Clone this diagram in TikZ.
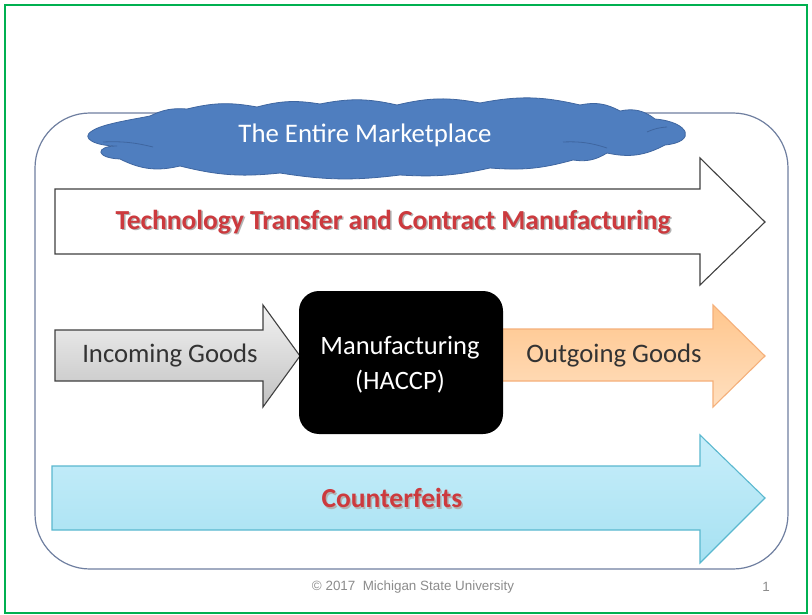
\documentclass[tikz,border=0pt]{standalone}
\usepackage{fontspec}
\setmainfont{Carlito}
\newfontfamily\footfont{Liberation Sans}
\definecolor{greenborder}{HTML}{00B050}
\definecolor{frameblue}{HTML}{6F7FA0}
\definecolor{cloudblue}{HTML}{4F7EBF}
\definecolor{cloudedge}{HTML}{3F66A0}
\definecolor{redtext}{HTML}{CC3A3E}
\definecolor{darkline}{HTML}{404040}
\definecolor{orangeedge}{HTML}{F5B07A}
\definecolor{cyanedge}{HTML}{5AB8CF}
\definecolor{cyantop}{HTML}{C8EEFA}
\definecolor{cyanbot}{HTML}{A6E1F2}
\tikzset{
  bigarrow/.style={line width=1.1pt, line join=miter},
  redlabel/.style={font=\fontsize{27.5}{32}\selectfont\bfseries, text=redtext},
  redshadow/.style={font=\fontsize{27.5}{32}\selectfont\bfseries, text=black!30},
  darklabel/.style={font=\fontsize{26.7}{30}\selectfont, text=black!80},
  whitelabel/.style={font=\fontsize{26.5}{35}\selectfont, text=white, align=center},
  footer/.style={font=\footfont\fontsize{13.4}{15}\selectfont, text=black!45},
  foldline/.style={draw=cloudedge, line width=0.8pt}
}
\begin{document}
\begin{tikzpicture}[x=1pt,y=-1pt]
\useasboundingbox (0,0) rectangle (812,615);
\fill[white] (0,0) rectangle (812,615);
\draw[greenborder, line width=1.4pt] (5,5) rectangle (807,613);
% outer frame
\draw[frameblue, line width=1.2pt, rounded corners=55pt] (35,113) rectangle (788,569);
% cloud
\draw[fill=cloudblue, draw=cloudedge, line width=0.8pt]
  (117,146) .. controls (95,146) and (80,138) .. (92,131)
  .. controls (102,124) and (130,120) .. (150,116)
  to[bend left=15] (187,109) to[bend left=12] (257,107) to[bend left=12] (320,104)
  to[bend left=12] (397,105) to[bend left=12] (480,103) to[bend left=12] (580,105)
  to[bend left=20] (620,111) to[bend left=25] (655,119)
  .. controls (690,122) and (697,142) .. (665,145)
  to[bend left=20] (607,153) to[bend left=20] (573,160) to[bend left=10] (490,168)
  to[bend left=8] (400,175) to[bend left=8] (280,173) to[bend left=10] (180,166)
  to[bend left=20] (120,159)
  .. controls (95,158) and (95,146) .. (117,146) -- cycle;
\draw[foldline] (103,142) to[bend left=8] (153,147);
\draw[foldline] (647,132) to[bend left=10] (667,127);
\draw[foldline] (563,142) to[bend left=10] (607,148);
\node[font=\fontsize{26.8}{30}\selectfont, text=white] (market) at (365,135) {The Entire Marketplace};
% technology transfer arrow
\draw[bigarrow, draw=darkline, fill=white] (55,189) -- (700,189) -- (700,158) -- (765,222) -- (700,285) -- (700,254) -- (55,254) -- cycle;
\node[redshadow] at (394.5,223.5) {Technology Transfer and Contract Manufacturing};
\node[redlabel] (tech) at (393,222) {Technology Transfer and Contract Manufacturing};
% outgoing arrow (behind box)
\draw[bigarrow, draw=orangeedge, top color=orange!45, bottom color=orange!25] (480,329) -- (713,329) -- (713,305) -- (765,356) -- (713,407) -- (713,381) -- (480,381) -- cycle;
% incoming arrow
\draw[bigarrow, draw=darkline, top color=black!5, bottom color=black!24] (55,330) -- (263,330) -- (263,305) -- (300,356) -- (263,407) -- (263,381) -- (55,381) -- cycle;
\node[darklabel] (incoming) at (170,356) {Incoming Goods};
% manufacturing box
\node[fill=black, rounded corners=20pt, minimum width=204pt, minimum height=143pt] (mfgbox) at (401,362.5) {};
\node[whitelabel] (mfg) at (400,365) {Manufacturing\\(HACCP)};
\node[darklabel] (outgoing) at (614,356) {Outgoing Goods};
% counterfeits arrow
\draw[bigarrow, draw=cyanedge, top color=cyantop, bottom color=cyanbot] (52,466) -- (700,466) -- (700,435) -- (765,498) -- (700,563) -- (700,530) -- (52,530) -- cycle;
\node[redshadow] at (393.5,499.5) {Counterfeits};
\node[redlabel] (counter) at (392,498) {Counterfeits};
% footer
\node[footer] (copy) at (413,587) {\textcopyright\ 2017 \ Michigan State University};
\node[footer] (pagenum) at (766,587) {1};
\end{tikzpicture}
\end{document}
